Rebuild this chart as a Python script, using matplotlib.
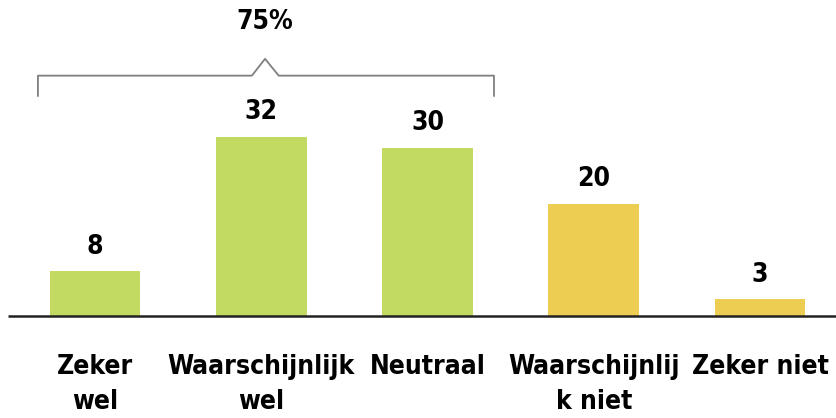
import matplotlib
matplotlib.use("Agg")
import matplotlib.pyplot as plt

categories = ["Zeker\nwel", "Waarschijnlijk\nwel", "Neutraal", "Waarschijnlij\nk niet", "Zeker niet"]
values = [8, 32, 30, 20, 3]
colors = ["#C3DA62", "#C3DA62", "#C3DA62", "#EDCD52", "#EDCD52"]
bracket_label = "75%"

fig = plt.figure(figsize=(8.36, 4.18), dpi=100)
ax = fig.add_axes([0, 0, 1, 1])
x = list(range(len(values)))
ax.bar(x, values, width=0.545, color=colors)
ax.set_xlim(-0.571, 4.457)
ax.set_ylim(-18.2, 56.4)
ax.axis("off")
ax.plot([-0.523, 4.457], [0, 0], color="#222222", lw=1.8, solid_capstyle="butt")

fs = 19
tkw = dict(fontsize=fs, color="black", fontstretch="condensed", fontweight="semibold",
           family="DejaVu Sans")
for xi, v in zip(x, values):
    ax.text(xi, v + 4.4, str(v), ha="center", va="center", **tkw)
line_y = [-9.1, -15.3]
for xi, c in zip(x, categories):
    for j, line in enumerate(c.split("\n")):
        ax.text(xi, line_y[j], line, ha="center", va="center", **tkw)

# bracket
bx = [-0.343, -0.343, 0.944, 1.023, 1.105, 2.40, 2.40]
by = [39.3, 42.9, 42.9, 45.9, 42.9, 42.9, 39.3]
ax.plot(bx, by, color="#7F7F7F", lw=1.3)
ax.text(1.023, 52.5, bracket_label, ha="center", va="center", **tkw)

fig.savefig("out.png", dpi=100)
